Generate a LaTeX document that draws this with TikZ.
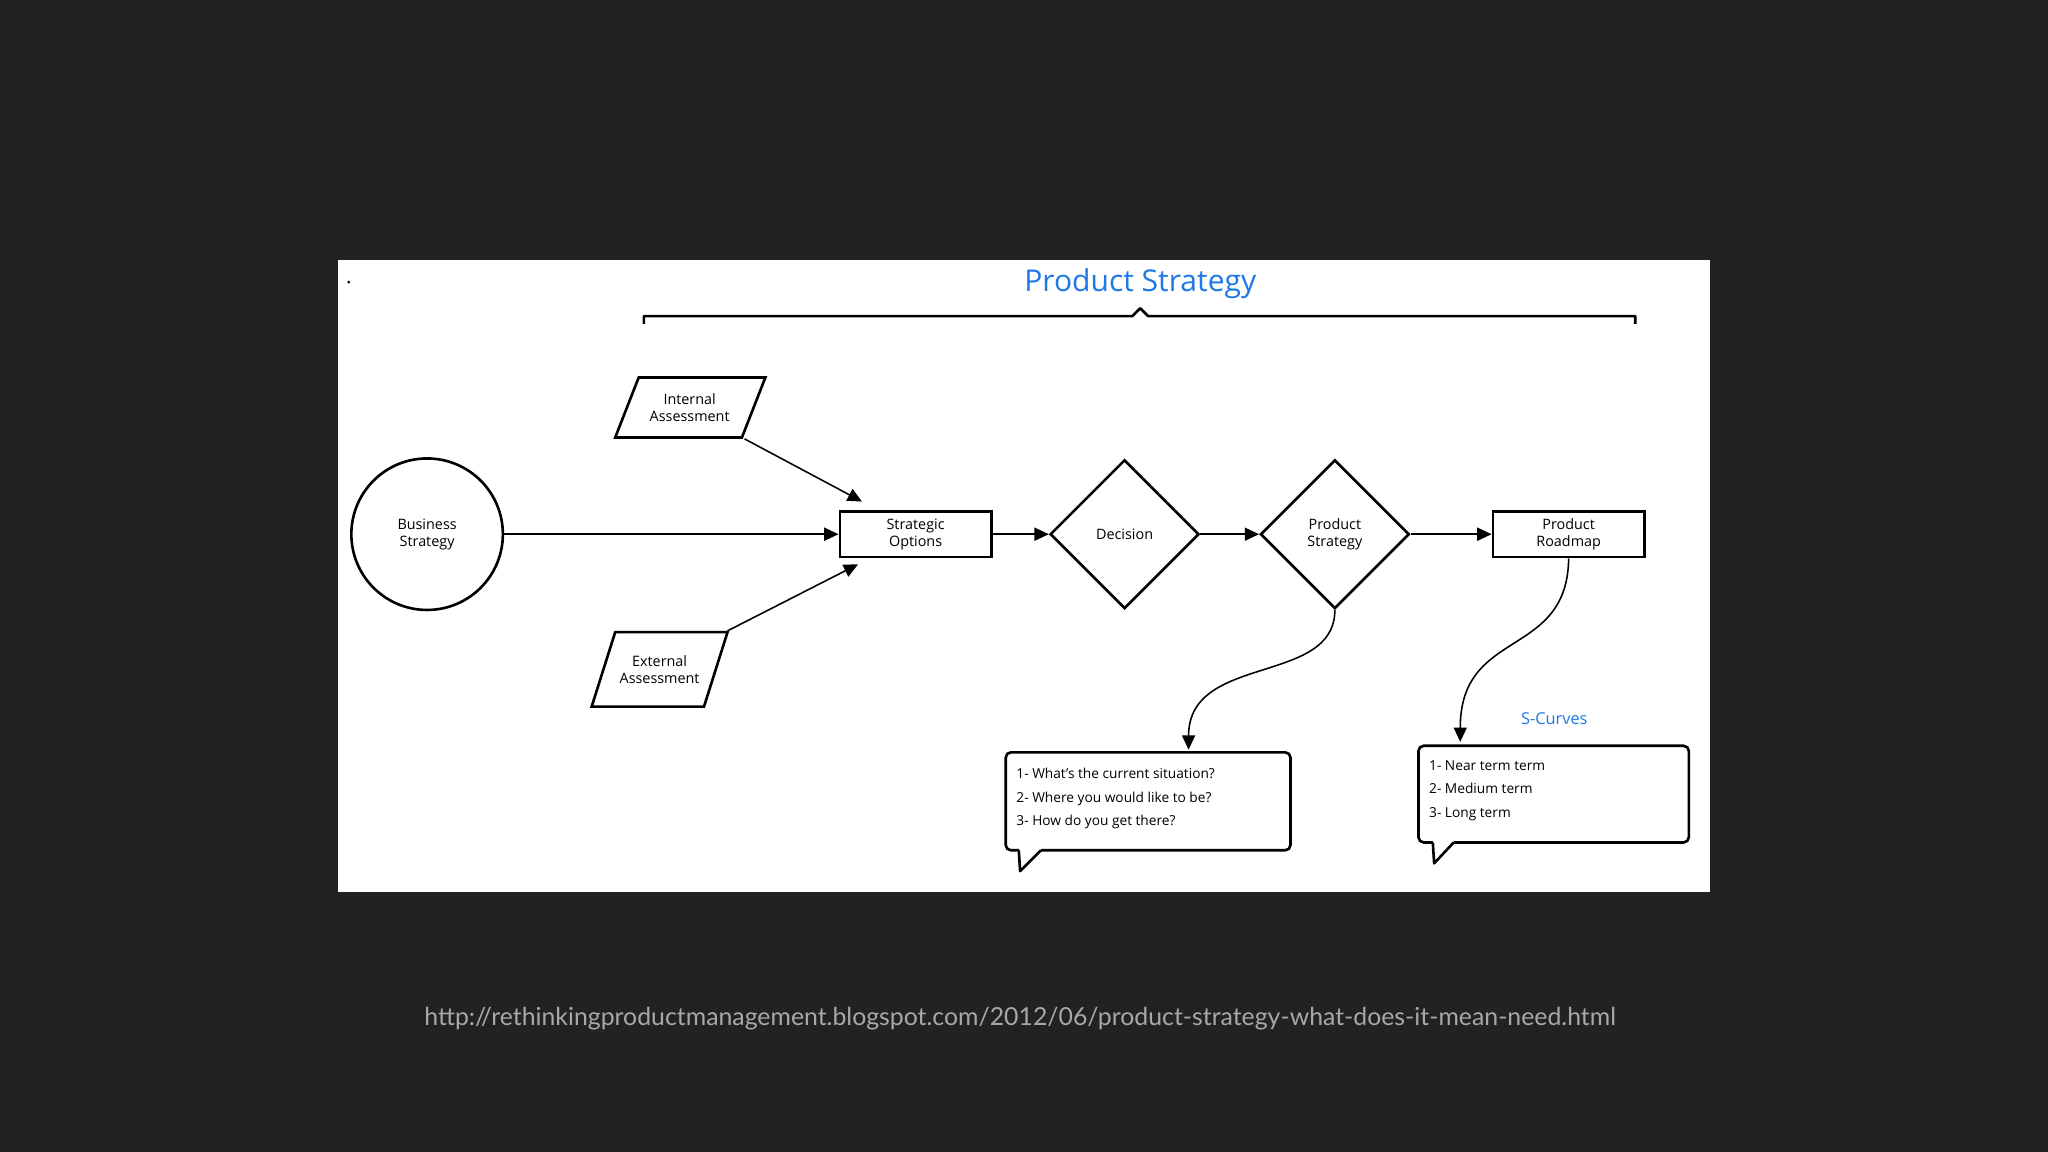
\documentclass[tikz,border=0pt]{standalone}
\usepackage{fontspec}
\setmainfont{Open Sans}
\newfontfamily\urlfont{Lato}
\usetikzlibrary{arrows.meta,shapes.geometric}
\definecolor{bg}{HTML}{222222}
\definecolor{ttl}{HTML}{1E78E6}
\definecolor{urlc}{HTML}{A8A8A8}
\begin{document}
\begin{tikzpicture}[x=1pt,y=-1pt,
  lbl/.style={font=\fontsize{11}{13}\selectfont,align=center,text=black},
  box/.style={draw=black,line width=2pt,lbl,minimum width=116pt,minimum height=35pt,inner sep=0pt},
  dia/.style={draw=black,line width=2pt,lbl,diamond,minimum width=114pt,minimum height=114pt,inner sep=0pt},
  con/.style={line width=1.2pt,-{Triangle[length=11pt,width=10pt]}},
  ctext/.style={font=\fontsize{10.5}{18}\selectfont,align=left,anchor=north west,inner sep=0pt}]
\useasboundingbox (0,0) rectangle (1568,882);
\fill[bg] (0,0) rectangle (1568,882);
\fill[white] (259,199) rectangle (1309,683);
\fill[black] (267,216) circle (1.2);
\node[text=ttl,font=\fontsize{23}{26}\selectfont] (title) at (873,217) {Product Strategy};
\draw[line width=2pt,line join=round] (493,248) -- (493,242) -- (867,242) -- (873,236) -- (879,242) -- (1252,242) -- (1252,248);
\node[circle,draw=black,line width=2pt,minimum size=116pt,lbl,inner sep=0pt] (bs) at (327,409) {Business\\Strategy};
\draw[line width=2pt] (471,335) -- (489,289) -- (586,289) -- (568,335) -- cycle;
\node[lbl] (ia) at (528,312) {Internal\\Assessment};
\draw[line width=2pt] (453,541) -- (471,484) -- (557,484) -- (539,541) -- cycle;
\node[lbl] (ea) at (505,513) {External\\Assessment};
\node[box] (so) at (701,409) {Strategic\\Options};
\node[dia] (dec) at (861,409) {Decision};
\node[dia] (ps) at (1022,409) {Product\\Strategy};
\node[box] (pr) at (1201,409) {Product\\Roadmap};
\coordinate (iaS) at (570,336);
\coordinate (iaE) at (660,384);
\coordinate (eaS) at (557,483);
\coordinate (eaE) at (657,432);
\draw[con] (bs) -- (so);
\draw[con] (so) -- (dec);
\draw[con] (dec) -- (ps);
\draw[con] (ps) -- (pr);
\draw[con] (iaS) -- (iaE);
\draw[con] (eaS) -- (eaE);
\coordinate (c1) at (910,574);
\coordinate (c2) at (1118,568);
\draw[con] (ps.south) .. controls (1022,525) and (910,500) .. (c1);
\draw[con] (pr.south) .. controls (1200,505) and (1118,480) .. (c2);
\draw[line width=2pt,rounded corners=4pt,fill=white] (780,651) -- (770,651) -- (770,576) -- (988,576) -- (988,651) -- (797,651);
\draw[line width=2pt,line join=round] (780,651) -- (781,667) -- (797,651);
\node[ctext] (t1) at (778,588) {1- What's the current situation?\\2- Where you would like to be?\\3- How do you get there?};
\draw[line width=2pt,rounded corners=4pt,fill=white] (1097,645) -- (1086,645) -- (1086,571) -- (1293,571) -- (1293,645) -- (1113,645);
\draw[line width=2pt,line join=round] (1097,645) -- (1098,661) -- (1113,645);
\node[ctext] (t2) at (1094,582) {1- Near term term\\2- Medium term\\3- Long term};
\node[text=ttl,font=\fontsize{12.5}{14}\selectfont] (sc) at (1190,550) {S-Curves};
\node[text=urlc,font=\urlfont\fontsize{19}{22}\selectfont] (url) at (781,780) {http://rethinkingproductmanagement.blogspot.com/2012/06/product-strategy-what-does-it-mean-need.html};
\end{tikzpicture}
\end{document}
